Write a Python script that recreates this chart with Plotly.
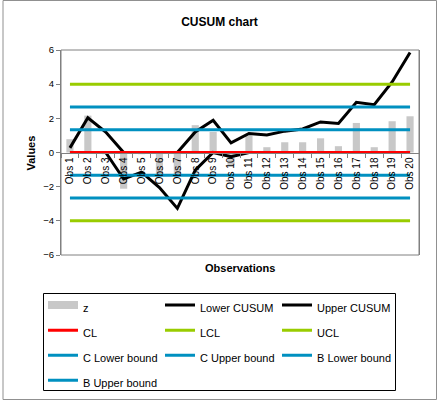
import plotly.graph_objects as go

categories = [f"Obs {i}" for i in range(1, 21)]
z_values = [0.78, 2.16, -0.1, -2.12, -0.1, -1.38, -1.4, 1.6, 1.2, -0.75,
            1.0, 0.31, 0.6, 0.6, 0.83, 0.37, 1.73, 0.31, 1.83, 2.12]
lower_cusum = [0, 0, 0, -1.55, -1.15, -2.05, -3.27, -1.03, 0, -0.25,
               0, 0, 0, 0, 0, 0, 0, 0, 0, 0]
upper_cusum = [0.27, 2.03, 1.2, 0, 0, 0, 0, 1.2, 1.89, 0.56,
               1.11, 1.02, 1.25, 1.38, 1.79, 1.7, 2.94, 2.8, 4.13, 5.85]
cl_value = 0
lcl_value = -4
ucl_value = 4
c_lower = -1.333
c_upper = 1.333
b_lower = -2.667
b_upper = 2.667
y_ticks = [-6, -4, -2, 0, 2, 4, 6]

FONT = "Liberation Sans, Arial, sans-serif"
GRAY = "#C8C8C8"
GREEN = "#99CC00"
BLUE = "#0090C0"
RED = "#FF0000"

n = len(categories)
fig = go.Figure()

def lname(s):
    return f'<span style="font-size:11px">{s}</span>'

fig.add_trace(go.Bar(x=categories, y=z_values, name="z", marker_color=GRAY,
                     marker_line_width=0, showlegend=False, legendgroup="z"))
# legend marker for z (wide grey block, as in the reference legend)
fig.add_trace(go.Scatter(x=[None], y=[None], mode="lines", name=lname("z"),
                         line=dict(color=GRAY, width=8), legendgroup="z"))

fig.add_trace(go.Scatter(x=categories, y=lower_cusum, mode="lines", name=lname("Lower CUSUM"),
                         line=dict(color="black", width=3)))
fig.add_trace(go.Scatter(x=categories, y=upper_cusum, mode="lines", name=lname("Upper CUSUM"),
                         line=dict(color="black", width=3)))

def hline(name, value, color):
    fig.add_trace(go.Scatter(x=categories, y=[value] * n, mode="lines", name=lname(name),
                             line=dict(color=color, width=3)))

hline("CL", cl_value, RED)
hline("LCL", lcl_value, GREEN)
hline("UCL", ucl_value, GREEN)
hline("C Lower bound", c_lower, BLUE)
hline("C Upper bound", c_upper, BLUE)
hline("B Lower bound", b_lower, BLUE)
hline("B Upper bound", b_upper, BLUE)

W, H = 439, 403
L, R, T, B = 61, 20, 50, 148
pw, ph = W - L - R, H - T - B

def px_x(x):
    return (x - L) / pw

def px_y(y):
    return (H - B - y) / ph

fig.update_layout(
    width=W, height=H,
    margin=dict(l=L, r=R, t=T, b=B, pad=0, autoexpand=False),
    paper_bgcolor="white", plot_bgcolor="white",
    font=dict(family=FONT, size=10, color="black"),
    title=dict(text="<b>CUSUM chart</b>", x=0.5, xanchor="center",
               y=1 - 22 / H, yanchor="middle",
               font=dict(family=FONT, size=12, color="black")),
    bargap=0.6,
    showlegend=True,
    legend=dict(orientation="h", x=px_x(43), y=px_y(287.5), xanchor="left", yanchor="top",
                borderwidth=0, bgcolor="rgba(0,0,0,0)",
                entrywidth=72, entrywidthmode="pixels",
                font=dict(family=FONT, size=17, color="black"),
                traceorder="normal", itemwidth=30),
    xaxis=dict(type="category", anchor="free", position=0.5,
               showline=True, linecolor="#808080", linewidth=1,
               ticks="outside", ticklen=4, tickcolor="#808080", tickson="boundaries",
               tickangle=-90, tickfont=dict(family=FONT, size=10, color="black"),
               showgrid=False, zeroline=False, range=[-0.5, n - 0.5]),
    yaxis=dict(range=[-6, 6], tickvals=y_ticks, ticks="outside", ticklen=4,
               tickcolor="#808080", showline=True, linecolor="#808080", mirror=True,
               showgrid=False, zeroline=False,
               tickfont=dict(family=FONT, size=9.5, color="black")),
    shapes=[
        dict(type="rect", xref="paper", yref="paper", x0=0, x1=1, y0=0, y1=1,
             line=dict(color="#808080", width=1), layer="above"),
        dict(type="rect", xref="paper", yref="paper",
             x0=px_x(3), x1=px_x(436.5), y0=px_y(399.5), y1=px_y(0.5),
             line=dict(color="#909090", width=1)),
        # legend frame
        dict(type="rect", xref="paper", yref="paper",
             x0=px_x(43.5), x1=px_x(395.5), y0=px_y(390.5), y1=px_y(293.5),
             line=dict(color="black", width=1)),
    ],
    annotations=[
        dict(text="<b>Values</b>", xref="paper", yref="paper", x=px_x(30), y=0.5,
             textangle=-90, showarrow=False, xanchor="center", yanchor="middle",
             font=dict(family=FONT, size=11, color="black")),
        dict(text="<b>Observations</b>", xref="paper", yref="paper", x=0.5, y=px_y(268),
             showarrow=False, xanchor="center", yanchor="middle",
             font=dict(family=FONT, size=11, color="black")),
    ],
)

fig.write_html("out.html")
